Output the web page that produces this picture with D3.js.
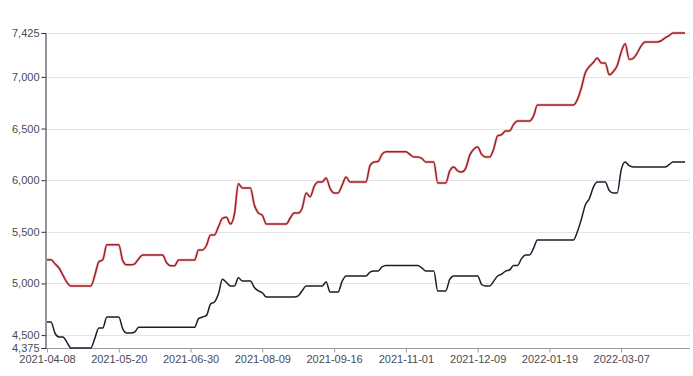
<html>
<head>
<meta charset="utf-8">
<title>price lines</title>
<script src="https://d3js.org/d3.v7.min.js"></script>
<style>
body { margin:0; background:#fff; }
svg { display:block; font-family:"Noto Sans", "DejaVu Sans", sans-serif; }
.grid line { stroke:#e3e3e8; stroke-width:1; }
.yaxis path, .yaxis line { stroke:#2a2a3a; }
.xaxis path, .xaxis line { stroke:#9a9aa4; }
.yaxis text, .xaxis text { fill:#4a4a55; font-size:11px; }
</style>
</head>
<body>
<svg width="693" height="376"></svg>
<script>

// x labels, one every 18 points
var xLabels = ["2021-04-08","2021-05-20","2021-06-30","2021-08-09","2021-09-16",
               "2021-11-01","2021-12-09","2022-01-19","2022-03-07"];
var labelEvery = 18;

var yTicks = [4375, 4500, 5000, 5500, 6000, 6500, 7000, 7425];

// upper (red) series
var redSeries = [
 5230,5230,5190,5150,5080,5010,4975,4975,4975,4975,
 4975,4975,5080,5210,5230,5375,5375,5375,5375,5220,
 5180,5180,5190,5240,5275,5275,5275,5275,5275,5275,
 5200,5172,5172,5227,5227,5227,5227,5227,5324,5324,
 5370,5470,5470,5550,5630,5640,5576,5670,5965,5924,
 5924,5924,5760,5682,5660,5576,5576,5576,5576,5576,
 5576,5634,5682,5682,5731,5876,5840,5940,5982,5982,
 6021,5920,5876,5876,5950,6031,5982,5982,5982,5982,
 5982,6140,6176,6180,6250,6275,6275,6275,6275,6275,
 6275,6250,6224,6224,6210,6176,6176,6176,5973,5973,
 5973,6090,6128,6090,6079,6115,6240,6300,6320,6250,
 6224,6224,6300,6428,6440,6476,6476,6540,6573,6573,
 6573,6573,6620,6728,6728,6728,6728,6728,6728,6728,
 6728,6728,6728,6780,6893,7040,7100,7140,7183,7135,
 7135,7020,7050,7110,7240,7320,7170,7180,7231,7300,
 7338,7338,7338,7338,7350,7377,7400,7425,7425,7425,
 7425
];

// lower (dark) series
var darkSeries = [
 4627,4627,4520,4482,4482,4430,4375,4375,4375,4375,
 4375,4375,4470,4569,4569,4675,4675,4675,4675,4560,
 4520,4520,4530,4575,4575,4575,4575,4575,4575,4575,
 4575,4575,4575,4575,4575,4575,4575,4575,4660,4675,
 4690,4800,4820,4900,5040,5010,4975,4975,5055,5024,
 5024,5024,4960,4927,4910,4869,4869,4869,4869,4869,
 4869,4869,4869,4880,4930,4975,4975,4975,4975,4975,
 5014,4917,4917,4917,5020,5072,5072,5072,5072,5072,
 5072,5110,5120,5120,5160,5175,5175,5175,5175,5175,
 5175,5175,5175,5175,5150,5120,5120,5120,4927,4927,
 4927,5040,5072,5072,5072,5072,5072,5072,5072,4990,
 4975,4975,5020,5072,5090,5120,5130,5175,5175,5240,
 5276,5276,5340,5421,5421,5421,5421,5421,5421,5421,
 5421,5421,5421,5500,5620,5760,5820,5930,5982,5982,
 5982,5900,5876,5876,6100,6176,6140,6128,6128,6128,
 6128,6128,6128,6128,6128,6128,6150,6176,6176,6176,
 6176
];

var svg = d3.select("svg");
var plotL = 45, plotR = 685, plotT = 33, plotB = 348;

var x = d3.scaleLinear().domain([0, redSeries.length - 1]).range([plotL + 2, plotR]);
var y = d3.scaleLinear().domain([4375, 7425]).range([plotB, plotT]);

// grid
svg.append("g").attr("class", "grid")
  .selectAll("line")
  .data(yTicks.filter(function(d) { return d !== 4375; }))
  .enter().append("line")
  .attr("x1", plotL).attr("x2", 690)
  .attr("y1", function(d) { return Math.round(y(d)) + 0.5; })
  .attr("y2", function(d) { return Math.round(y(d)) + 0.5; });

// x axis
var xTickIdx = xLabels.map(function(d, i) { return i * labelEvery; });
var xAxis = d3.axisBottom(x)
  .tickValues(xTickIdx)
  .tickSize(4)
  .tickPadding(3)
  .tickFormat(function(d) { return xLabels[d / labelEvery]; });
var gx = svg.append("g").attr("class", "xaxis")
  .attr("transform", "translate(0," + (plotB + 0.5) + ")")
  .call(xAxis);
gx.select(".domain").attr("d", "M" + plotL + ",0H690");

// y axis
var yAxis = d3.axisLeft(y)
  .tickValues(yTicks)
  .tickSize(4)
  .tickPadding(2)
  .tickFormat(d3.format(","));
svg.append("g").attr("class", "yaxis")
  .attr("transform", "translate(" + (plotL + 0.5) + ",0)")
  .call(yAxis);

// lines
var line = d3.line()
  .x(function(d, i) { return x(i); })
  .y(function(d) { return y(d); })
  .curve(d3.curveMonotoneX);

svg.append("path").datum(redSeries)
  .attr("fill", "none")
  .attr("stroke", "#e8a0a0")
  .attr("stroke-opacity", 0.5)
  .attr("stroke-width", 3)
  .attr("d", line);
svg.append("path").datum(redSeries)
  .attr("fill", "none")
  .attr("stroke", "#9e1f24")
  .attr("stroke-width", 1.5)
  .attr("d", line);

svg.append("path").datum(darkSeries)
  .attr("fill", "none")
  .attr("stroke", "#1b1d2c")
  .attr("stroke-width", 1.5)
  .attr("d", line);

</script>
</body>
</html>
